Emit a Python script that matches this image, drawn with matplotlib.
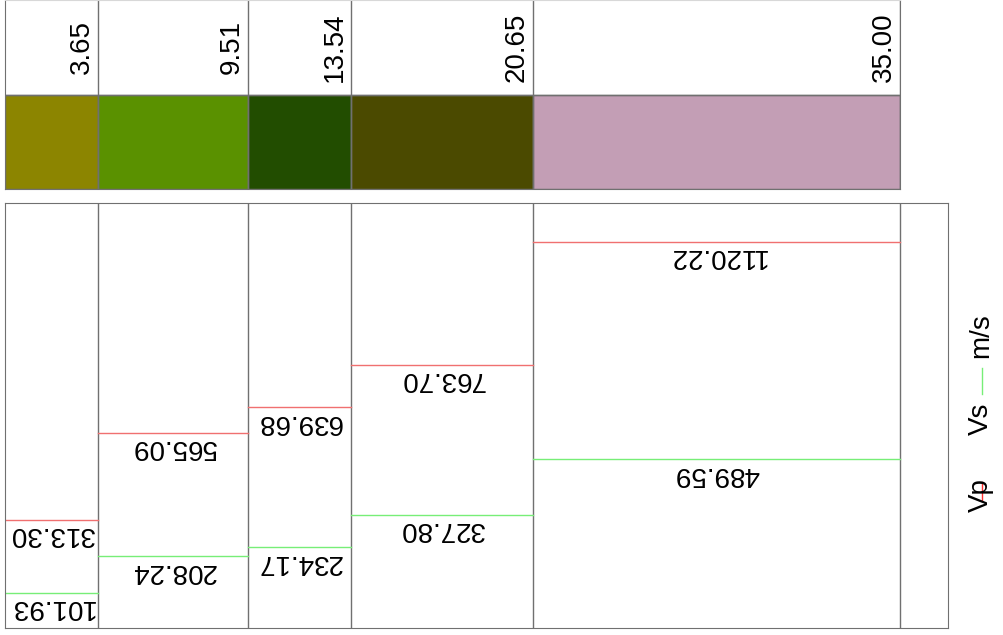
import matplotlib
matplotlib.use("Agg")
import matplotlib.pyplot as plt
from matplotlib.patches import Rectangle
from matplotlib.lines import Line2D

plt.rcParams['font.family'] = ['Liberation Sans', 'DejaVu Sans']

# ---- data ----
depths = [3.65, 9.51, 13.54, 20.65, 35.00]          # layer bottoms (m)
layer_colors = ['#8c8500', '#5a9100', '#224d00', '#4b4a00', '#c39eb5']
vp = [313.30, 565.09, 639.68, 763.70, 1120.22]      # m/s
vs = [101.93, 208.24, 234.17, 327.80, 489.59]       # m/s
legend_labels = ['Vp', 'Vs', 'm/s']

W, H = 1004, 635
fig = plt.figure(figsize=(W / 100, H / 100), dpi=100)
frame_col = '#707070'
FS = 20

def px_axes(l, t, r, b):
    return fig.add_axes([l / W, 1 - b / H, (r - l) / W, (b - t) / H])

# ---- top panel: layer column ----
scale = (900 - 4.6) / depths[-1]
ax1 = px_axes(4.6, 0, 900, 189)
ax1.set_xlim(0, depths[-1])
ax1.set_ylim(0, 2)
tops = [0] + depths[:-1]
for top, bot, col in zip(tops, depths, layer_colors):
    ax1.add_patch(Rectangle((top, 0), bot - top, 1, facecolor=col,
                            edgecolor=frame_col, linewidth=1))
    ax1.axvline(bot, color=frame_col, linewidth=1)
    ax1.annotate(f"{bot:.2f}", xy=(bot, 1.5), xytext=(-2.5, 0),
                 textcoords='offset points', rotation=90,
                 ha='right', va='center', fontsize=FS)
ax1.axhline(1, color=frame_col, linewidth=1)
ax1.spines['top'].set_color('#d8d8d8')
for s in ['left', 'right', 'bottom']:
    ax1.spines[s].set_color(frame_col)
ax1.set_xticks([])
ax1.set_yticks([])

# ---- bottom panel: velocities ----
ax2 = px_axes(4.6, 203, 948, 628)
ax2.set_xlim(0, (948 - 4.6) / scale)
ax2.set_ylim(0, max(vp) * 1.1)
for top, bot, p, s in zip(tops, depths, vp, vs):
    ax2.axvline(bot, color=frame_col, linewidth=1)
    ax2.plot([top, bot], [p, p], color='#f07070', linewidth=1)
    ax2.plot([top, bot], [s, s], color='#77ee77', linewidth=1)
    for v in (p, s):
        ax2.annotate(f"{v:.2f}", xy=((top + bot) / 2, v), xytext=(0, -1),
                     textcoords='offset points', rotation=180,
                     ha='center', va='top', fontsize=FS)
for s in ax2.spines.values():
    s.set_color(frame_col)
ax2.set_xticks([])
ax2.set_yticks([])

# ---- rotated legend ----
axl = fig.add_axes([0, 0, 1, 1])
axl.set_xlim(0, W)
axl.set_ylim(H, 0)
axl.axis('off')
axl.text(981, 495, legend_labels[0], rotation=90, ha='center', va='center', fontsize=FS)
axl.add_line(Line2D([982, 982], [482, 500], color='#ff3030', linewidth=1))
axl.text(981, 419, legend_labels[1], rotation=90, ha='center', va='center', fontsize=FS)
axl.add_line(Line2D([982, 982], [368, 394], color='#77ee77', linewidth=1))
axl.text(981, 336, legend_labels[2], rotation=90, ha='center', va='center', fontsize=FS)

fig.savefig('out.png', dpi=100)
